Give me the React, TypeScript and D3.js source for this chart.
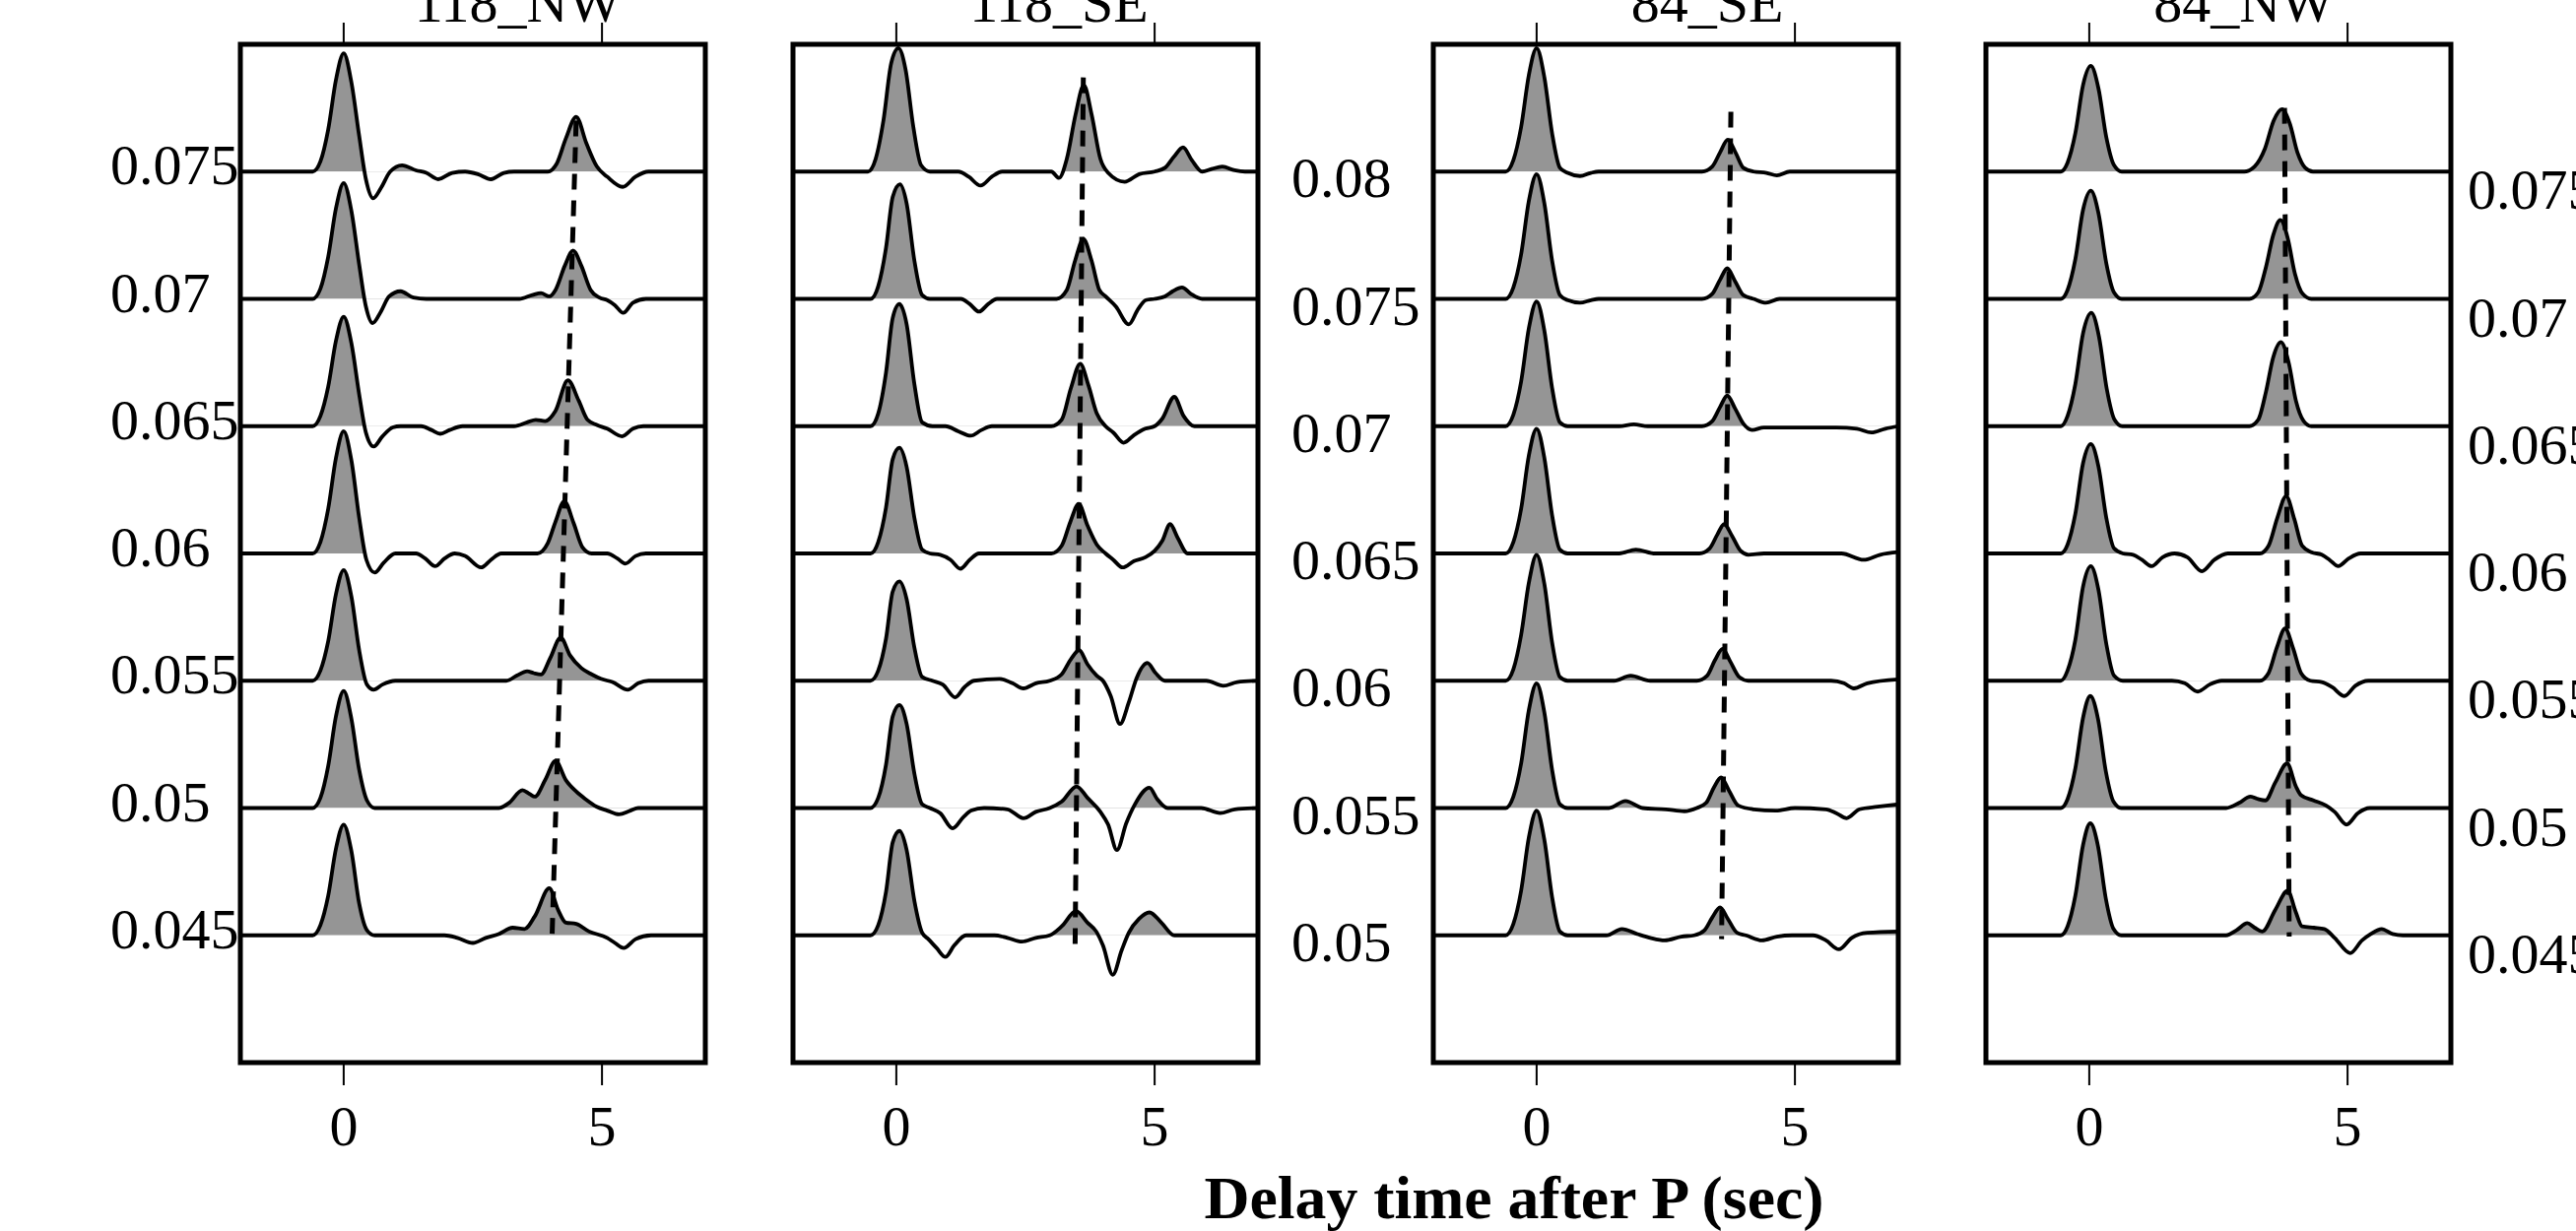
import React from 'react';
import * as d3 from 'd3';

type Pt = [number, number];
type Moveout = [number, number, number]; // [time, ray parameter, amplitude offset]

// ---------- shared axis values ----------
const TIME_DOMAIN: [number, number] = [-2, 7];
const TIME_TICKS = [0, 5];
const RAY_STEP = 0.005; // trace spacing in ray-parameter units; amplitudes are in these units
const AXIS_TITLE = 'Delay time after P (sec)';

// ---------- 118_NW ----------
const nw118Title = '118_NW';
const nw118RayP = [0.075, 0.07, 0.065, 0.06, 0.055, 0.05, 0.045];
const nw118Labels = ['0.075', '0.07', '0.065', '0.06', '0.055', '0.05', '0.045'];
const nw118Traces: Pt[][] = [
  [[-2,0],[-0.6,0],[-0.45,0.08],[-0.3,0.33],[-0.15,0.72],[0,0.93],[0.15,0.7],[0.3,0.28],[0.43,-0.06],[0.57,-0.21],[0.72,-0.13],[0.9,0],[1.13,0.05],[1.4,0.01],[1.6,-0.01],[1.83,-0.06],[2.1,-0.01],[2.35,0],[2.6,-0.02],[2.85,-0.06],[3.1,-0.01],[3.3,0],[3.95,0],[4.12,0.06],[4.3,0.26],[4.5,0.43],[4.7,0.22],[4.9,0.04],[5.1,-0.04],[5.4,-0.12],[5.65,-0.04],[5.9,0],[7,0]],
  [[-2,0],[-0.6,0],[-0.45,0.08],[-0.3,0.33],[-0.15,0.71],[0,0.91],[0.15,0.69],[0.3,0.27],[0.43,-0.06],[0.56,-0.19],[0.72,-0.1],[0.88,0.02],[1.1,0.06],[1.35,0.01],[1.6,0],[3.4,0],[3.65,0.03],[3.82,0.045],[3.98,0.02],[4.1,0.07],[4.28,0.26],[4.44,0.38],[4.6,0.26],[4.78,0.07],[4.95,0.01],[5.1,-0.01],[5.25,-0.05],[5.41,-0.11],[5.6,-0.03],[5.85,0],[7,0]],
  [[-2,0],[-0.6,0],[-0.45,0.08],[-0.3,0.31],[-0.15,0.67],[0,0.86],[0.15,0.65],[0.3,0.25],[0.43,-0.05],[0.58,-0.16],[0.75,-0.08],[0.95,-0.01],[1.1,0],[1.5,0],[1.7,-0.03],[1.87,-0.06],[2.05,-0.03],[2.3,0],[3.3,0],[3.55,0.03],[3.72,0.05],[3.9,0.04],[4.1,0.12],[4.34,0.36],[4.55,0.2],[4.72,0.05],[4.9,0.01],[5.1,-0.02],[5.39,-0.08],[5.6,-0.02],[5.8,0],[7,0]],
  [[-2,0],[-0.6,0],[-0.45,0.09],[-0.3,0.35],[-0.15,0.75],[0,0.96],[0.15,0.73],[0.3,0.28],[0.44,-0.05],[0.6,-0.15],[0.78,-0.07],[1.0,0],[1.4,0],[1.58,-0.04],[1.77,-0.1],[1.95,-0.04],[2.15,0],[2.35,-0.02],[2.66,-0.11],[2.85,-0.05],[3.05,0],[3.75,0],[3.95,0.08],[4.1,0.25],[4.27,0.41],[4.45,0.24],[4.62,0.05],[4.8,0],[5.1,0],[5.3,-0.04],[5.45,-0.08],[5.65,-0.02],[5.85,0],[7,0]],
  [[-2,0],[-0.6,0],[-0.45,0.08],[-0.3,0.31],[-0.15,0.68],[0,0.87],[0.15,0.66],[0.3,0.24],[0.45,-0.03],[0.58,-0.07],[0.75,-0.03],[1.0,0],[3.15,0],[3.35,0.04],[3.55,0.075],[3.68,0.06],[3.82,0.05],[4.0,0.18],[4.2,0.34],[4.38,0.2],[4.6,0.1],[4.8,0.05],[4.98,0.015],[5.2,-0.01],[5.5,-0.07],[5.7,-0.02],[5.9,0],[7,0]],
  [[-2,0],[-0.6,0],[-0.45,0.08],[-0.3,0.33],[-0.15,0.72],[0,0.92],[0.15,0.7],[0.3,0.3],[0.45,0.06],[0.6,0],[3.0,0],[3.2,0.04],[3.46,0.14],[3.6,0.11],[3.7,0.09],[3.9,0.22],[4.1,0.37],[4.3,0.22],[4.5,0.13],[4.68,0.07],[4.9,0.01],[5.1,-0.02],[5.33,-0.05],[5.55,-0.02],[5.7,0],[7,0]],
  [[-2,0],[-0.6,0],[-0.45,0.08],[-0.3,0.31],[-0.15,0.68],[0,0.87],[0.15,0.66],[0.3,0.25],[0.45,0.04],[0.6,0],[1.95,0],[2.2,-0.02],[2.5,-0.06],[2.75,-0.02],[3.0,0.01],[3.27,0.06],[3.5,0.05],[3.7,0.15],[3.98,0.37],[4.15,0.2],[4.3,0.1],[4.5,0.09],[4.75,0.03],[5.1,-0.02],[5.25,-0.06],[5.42,-0.1],[5.65,-0.03],[5.95,0],[7,0]],
];
const nw118Moveout: Moveout[] = [[4.5, 0.075, 0.4], [4.03, 0.045, -0.06]];

// ---------- 118_SE ----------
const se118Title = '118_SE';
const se118RayP = [0.08, 0.075, 0.07, 0.065, 0.06, 0.055, 0.05];
const se118Traces: Pt[][] = [
  [[-2,0],[-0.55,0],[-0.4,0.1],[-0.25,0.4],[-0.1,0.85],[0.04,0.97],[0.18,0.8],[0.33,0.35],[0.48,0.05],[0.65,0],[1.2,0],[1.4,-0.04],[1.63,-0.11],[1.85,-0.04],[2.05,0],[3.0,0],[3.15,-0.05],[3.3,0.1],[3.47,0.45],[3.63,0.68],[3.78,0.45],[3.95,0.1],[4.1,-0.01],[4.42,-0.08],[4.7,-0.02],[5.0,0],[5.2,0.03],[5.38,0.12],[5.55,0.19],[5.72,0.09],[5.92,0],[6.1,0.02],[6.31,0.04],[6.55,0.01],[6.75,0],[7,0]],
  [[-2,0],[-0.5,0],[-0.35,0.1],[-0.2,0.4],[-0.07,0.8],[0.07,0.9],[0.2,0.75],[0.35,0.3],[0.5,0.03],[0.65,0],[1.25,0],[1.42,-0.04],[1.6,-0.1],[1.78,-0.04],[1.95,0],[3.1,0],[3.3,0.07],[3.46,0.3],[3.62,0.47],[3.78,0.3],[3.93,0.07],[4.05,0.02],[4.25,-0.06],[4.5,-0.2],[4.68,-0.08],[4.83,-0.01],[5.0,0],[5.2,0.02],[5.35,0.06],[5.53,0.09],[5.7,0.04],[5.92,0],[7,0]],
  [[-2,0],[-0.5,0],[-0.35,0.1],[-0.2,0.42],[-0.07,0.85],[0.06,0.96],[0.2,0.8],[0.35,0.33],[0.5,0.03],[0.7,0],[0.95,0],[1.2,-0.04],[1.44,-0.075],[1.65,-0.03],[1.85,0],[3.0,0],[3.2,0.05],[3.38,0.3],[3.56,0.49],[3.72,0.32],[3.88,0.1],[4.05,0],[4.2,-0.05],[4.4,-0.13],[4.6,-0.07],[4.82,-0.02],[5.0,0],[5.15,0.06],[5.38,0.23],[5.56,0.08],[5.77,0],[7,0]],
  [[-2,0],[-0.5,0],[-0.35,0.09],[-0.2,0.36],[-0.07,0.74],[0.06,0.83],[0.2,0.68],[0.35,0.28],[0.5,0.03],[0.65,0],[0.85,-0.01],[1.05,-0.05],[1.24,-0.12],[1.42,-0.05],[1.6,0],[3.0,0],[3.2,0.06],[3.37,0.25],[3.53,0.39],[3.7,0.22],[3.88,0.07],[4.05,0],[4.2,-0.05],[4.38,-0.11],[4.6,-0.06],[4.82,-0.03],[5.0,0.02],[5.15,0.1],[5.3,0.23],[5.45,0.12],[5.64,0],[7,0]],
  [[-2,0],[-0.5,0],[-0.35,0.08],[-0.2,0.33],[-0.07,0.7],[0.06,0.78],[0.2,0.64],[0.35,0.26],[0.5,0.03],[0.7,0],[0.9,-0.03],[1.14,-0.13],[1.32,-0.05],[1.5,0],[2.0,0.015],[2.25,-0.02],[2.46,-0.06],[2.7,-0.02],[2.97,0],[3.2,0.05],[3.38,0.17],[3.54,0.24],[3.7,0.13],[3.88,0.04],[4.0,0],[4.15,-0.12],[4.33,-0.34],[4.5,-0.17],[4.65,0.02],[4.86,0.14],[5.02,0.06],[5.2,0],[6.0,0],[6.33,-0.04],[6.6,-0.01],[7,0]],
  [[-2,0],[-0.5,0],[-0.35,0.08],[-0.2,0.34],[-0.07,0.72],[0.06,0.81],[0.2,0.66],[0.35,0.27],[0.5,0.03],[0.65,0],[0.85,-0.04],[1.09,-0.16],[1.3,-0.07],[1.45,-0.02],[1.7,0],[2.15,-0.01],[2.46,-0.08],[2.7,-0.03],[2.97,0],[3.2,0.05],[3.49,0.17],[3.7,0.08],[3.95,-0.03],[4.1,-0.13],[4.27,-0.33],[4.45,-0.12],[4.62,0.03],[4.9,0.16],[5.05,0.07],[5.25,0],[5.9,0],[6.27,-0.04],[6.55,-0.01],[7,0]],
  [[-2,0],[-0.5,0],[-0.35,0.08],[-0.2,0.34],[-0.07,0.73],[0.06,0.82],[0.2,0.67],[0.35,0.27],[0.5,0.02],[0.62,-0.03],[0.78,-0.1],[0.95,-0.17],[1.12,-0.08],[1.35,0],[1.9,0],[2.15,-0.02],[2.43,-0.05],[2.7,-0.02],[2.97,0],[3.2,0.07],[3.48,0.19],[3.7,0.1],[3.87,0.03],[4.0,-0.08],[4.19,-0.31],[4.36,-0.12],[4.5,0.02],[4.7,0.13],[4.9,0.18],[5.13,0.1],[5.38,0],[7,0]],
];
const se118Moveout: Moveout[] = [[3.62, 0.08, 0.74], [3.46, 0.05, -0.11]];

// ---------- 84_SE ----------
const se84Title = '84_SE';
const se84RayP = [0.08, 0.075, 0.07, 0.065, 0.06, 0.055, 0.05];
const se84Labels = ['0.08', '0.075', '0.07', '0.065', '0.06', '0.055', '0.05'];
const se84Traces: Pt[][] = [
  [[-2,0],[-0.6,0],[-0.45,0.09],[-0.3,0.35],[-0.15,0.76],[0,0.97],[0.15,0.74],[0.3,0.3],[0.45,0.03],[0.6,-0.01],[0.84,-0.035],[1.05,-0.01],[1.2,0],[3.2,0],[3.4,0.04],[3.55,0.15],[3.7,0.25],[3.85,0.15],[4.0,0.03],[4.2,0],[4.45,-0.01],[4.65,-0.03],[4.9,0],[7,0]],
  [[-2,0],[-0.6,0],[-0.45,0.09],[-0.3,0.35],[-0.15,0.77],[0,0.98],[0.15,0.75],[0.3,0.3],[0.45,0.03],[0.6,-0.01],[0.84,-0.03],[1.05,-0.01],[1.2,0],[3.2,0],[3.4,0.04],[3.55,0.15],[3.69,0.24],[3.84,0.14],[4.0,0.03],[4.2,0],[4.44,-0.03],[4.7,0],[7,0]],
  [[-2,0],[-0.6,0],[-0.45,0.09],[-0.3,0.35],[-0.15,0.77],[0,0.98],[0.15,0.75],[0.3,0.3],[0.45,0.03],[0.6,0],[1.6,0],[1.88,0.015],[2.15,0],[3.2,0],[3.4,0.04],[3.55,0.15],[3.69,0.24],[3.84,0.14],[4.0,0.02],[4.17,-0.03],[4.4,-0.01],[5.8,-0.01],[6.2,-0.02],[6.48,-0.05],[6.75,-0.02],[7,0]],
  [[-2,0],[-0.6,0],[-0.45,0.09],[-0.3,0.35],[-0.15,0.77],[0,0.98],[0.15,0.75],[0.3,0.3],[0.45,0.03],[0.6,0],[1.6,0],[1.92,0.03],[2.3,0],[3.15,0],[3.35,0.04],[3.5,0.15],[3.63,0.23],[3.78,0.14],[3.95,0.02],[4.1,-0.01],[4.4,0],[5.9,0],[6.33,-0.05],[6.65,-0.01],[7,0.01]],
  [[-2,0],[-0.6,0],[-0.45,0.09],[-0.3,0.36],[-0.15,0.77],[0,0.99],[0.15,0.76],[0.3,0.3],[0.45,0.03],[0.6,0],[1.5,0],[1.82,0.04],[2.2,0],[3.1,0],[3.3,0.04],[3.45,0.16],[3.6,0.25],[3.75,0.15],[3.92,0.03],[4.1,0],[5.7,0],[5.95,-0.02],[6.14,-0.06],[6.4,-0.02],[7,0.01]],
  [[-2,0],[-0.6,0],[-0.45,0.09],[-0.3,0.35],[-0.15,0.77],[0,0.98],[0.15,0.75],[0.3,0.3],[0.45,0.03],[0.6,0],[1.4,0],[1.72,0.055],[2.05,0],[2.5,-0.01],[2.86,-0.025],[3.1,0],[3.28,0.04],[3.43,0.16],[3.57,0.24],[3.72,0.14],[3.9,0.02],[4.2,-0.01],[4.63,-0.02],[5.0,0],[5.6,-0.01],[5.8,-0.04],[6.0,-0.08],[6.25,-0.01],[6.6,0.01],[7,0.03]],
  [[-2,0],[-0.6,0],[-0.45,0.09],[-0.3,0.35],[-0.15,0.77],[0,0.98],[0.15,0.75],[0.3,0.3],[0.45,0.03],[0.6,0],[1.35,0],[1.65,0.05],[1.95,0.01],[2.2,-0.02],[2.48,-0.04],[2.8,-0.01],[3.05,0],[3.25,0.04],[3.4,0.14],[3.55,0.22],[3.7,0.13],[3.88,0.02],[4.05,0],[4.36,-0.04],[4.65,-0.01],[4.95,0],[5.35,0],[5.6,-0.04],[5.85,-0.11],[6.1,-0.02],[6.4,0.02],[7,0.03]],
];
const se84Moveout: Moveout[] = [[3.76, 0.08, 0.47], [3.58, 0.05, -0.03]];

// ---------- 84_NW ----------
const nw84Title = '84_NW';
const nw84RayP = [0.075, 0.07, 0.065, 0.06, 0.055, 0.05, 0.045];
const nw84Labels = ['0.075', '0.07', '0.065', '0.06', '0.055', '0.05', '0.045'];
const nw84Traces: Pt[][] = [
  [[-2,0],[-0.55,0],[-0.42,0.07],[-0.27,0.3],[-0.12,0.68],[0.03,0.83],[0.18,0.65],[0.33,0.27],[0.48,0.05],[0.63,0],[3.0,0],[3.2,0.04],[3.4,0.18],[3.57,0.4],[3.73,0.49],[3.88,0.38],[4.03,0.15],[4.18,0.03],[4.33,0],[7,0]],
  [[-2,0],[-0.55,0],[-0.42,0.07],[-0.27,0.31],[-0.12,0.7],[0.03,0.85],[0.18,0.67],[0.33,0.28],[0.48,0.05],[0.63,0],[3.1,0],[3.27,0.05],[3.42,0.25],[3.56,0.5],[3.7,0.62],[3.84,0.48],[3.98,0.2],[4.13,0.04],[4.3,0],[7,0]],
  [[-2,0],[-0.55,0],[-0.42,0.08],[-0.27,0.33],[-0.12,0.73],[0.04,0.89],[0.19,0.7],[0.34,0.29],[0.49,0.05],[0.64,0],[3.1,0],[3.27,0.05],[3.42,0.27],[3.56,0.54],[3.71,0.66],[3.86,0.5],[4.0,0.2],[4.15,0.04],[4.3,0],[7,0]],
  [[-2,0],[-0.55,0],[-0.42,0.07],[-0.27,0.31],[-0.12,0.71],[0.03,0.86],[0.18,0.68],[0.33,0.28],[0.48,0.04],[0.65,0],[0.85,-0.01],[1.02,-0.05],[1.21,-0.1],[1.42,-0.03],[1.65,0],[1.9,-0.03],[2.18,-0.14],[2.42,-0.05],[2.68,0],[3.3,0],[3.47,0.06],[3.64,0.28],[3.81,0.45],[3.97,0.27],[4.12,0.06],[4.3,0.01],[4.5,-0.01],[4.65,-0.05],[4.82,-0.1],[5.02,-0.04],[5.25,0],[7,0]],
  [[-2,0],[-0.55,0],[-0.42,0.08],[-0.27,0.32],[-0.12,0.74],[0.03,0.9],[0.18,0.71],[0.33,0.29],[0.48,0.04],[0.65,0],[1.6,0],[1.85,-0.02],[2.1,-0.085],[2.33,-0.03],[2.56,0],[3.3,0],[3.47,0.06],[3.63,0.26],[3.79,0.41],[3.95,0.25],[4.1,0.06],[4.28,0],[4.5,-0.01],[4.7,-0.05],[4.94,-0.12],[5.15,-0.04],[5.4,0],[7,0]],
  [[-2,0],[-0.55,0],[-0.42,0.07],[-0.27,0.31],[-0.12,0.71],[0.02,0.88],[0.17,0.7],[0.32,0.29],[0.47,0.05],[0.62,0],[2.65,0],[2.9,0.04],[3.12,0.09],[3.27,0.07],[3.41,0.06],[3.6,0.2],[3.83,0.35],[4.0,0.17],[4.1,0.1],[4.34,0.06],[4.58,0.02],[4.75,-0.03],[4.98,-0.13],[5.2,-0.04],[5.43,0],[7,0]],
  [[-2,0],[-0.55,0],[-0.42,0.07],[-0.27,0.31],[-0.12,0.71],[0.02,0.88],[0.17,0.7],[0.32,0.29],[0.47,0.05],[0.62,0],[2.65,0],[2.85,0.04],[3.06,0.095],[3.2,0.06],[3.35,0.03],[3.6,0.2],[3.84,0.35],[4.0,0.18],[4.12,0.07],[4.35,0.06],[4.55,0.05],[4.75,-0.02],[5.05,-0.14],[5.28,-0.04],[5.45,0.01],[5.66,0.05],[5.87,0.01],[6.07,0],[7,0]],
];
const nw84Moveout: Moveout[] = [[3.78, 0.075, 0.5], [3.87, 0.045, -0.01]];

// ---------- layout ----------
const W = 2615;
const H = 1250;
const PANEL_TOP = 45;
const PANEL_BOTTOM = 1079;
const PANEL_W = 472;
const FONT = "'Liberation Serif', 'Times New Roman', Times, serif";
const FS = 58;

interface PanelCfg {
  title: string;
  rayP: number[];
  traces: Pt[][];
  moveout: Moveout[];
  left: number;
  titleX: number;
  labels?: string[];
  labelX?: number;
  labelDy?: number;
}

const panels: PanelCfg[] = [
  { title: nw118Title, rayP: nw118RayP, traces: nw118Traces, moveout: nw118Moveout, left: 244, titleX: 526, labels: nw118Labels, labelX: 112, labelDy: 13 },
  { title: se118Title, rayP: se118RayP, traces: se118Traces, moveout: se118Moveout, left: 805, titleX: 1075 },
  { title: se84Title, rayP: se84RayP, traces: se84Traces, moveout: se84Moveout, left: 1455, titleX: 1733, labels: se84Labels, labelX: 1311, labelDy: 26 },
  { title: nw84Title, rayP: nw84RayP, traces: nw84Traces, moveout: nw84Moveout, left: 2016, titleX: 2278, labels: nw84Labels, labelX: 2505, labelDy: 38 },
];

function Panel({ cfg, idx }: { cfg: PanelCfg; idx: number }) {
  const x = d3.scaleLinear().domain(TIME_DOMAIN).range([cfg.left, cfg.left + PANEL_W]);
  const pMax = d3.max(cfg.rayP)! + RAY_STEP;
  const pMin = d3.min(cfg.rayP)! - RAY_STEP;
  const y = d3.scaleLinear().domain([pMin, pMax]).range([PANEL_BOTTOM, PANEL_TOP]);

  const moveLine = d3
    .line<Moveout>()
    .x((d) => x(d[0]))
    .y((d) => y(d[1] + d[2] * RAY_STEP));

  return (
    <g>
      {cfg.traces.map((pts, i) => {
        const p = cfg.rayP[i];
        const base = y(p);
        const line = d3
          .line<Pt>()
          .x((d) => x(d[0]))
          .y((d) => y(p + d[1] * RAY_STEP))
          .curve(d3.curveMonotoneX);
        const area = d3
          .area<Pt>()
          .x((d) => x(d[0]))
          .y0(base)
          .y1((d) => y(p + d[1] * RAY_STEP))
          .curve(d3.curveMonotoneX);
        const clipId = `clip-${idx}-${i}`;
        return (
          <g key={i}>
            <clipPath id={clipId}>
              <rect x={cfg.left} y={0} width={PANEL_W} height={base} />
            </clipPath>
            <path d={area(pts)!} fill="#959595" stroke="none" clipPath={`url(#${clipId})`} />
            <path d={line(pts)!} fill="none" stroke="#000" strokeWidth={3.8} strokeLinejoin="round" />
          </g>
        );
      })}
      <path d={moveLine(cfg.moveout)!} fill="none" stroke="#000" strokeWidth={5} strokeDasharray="16 11" />
      <rect x={cfg.left} y={PANEL_TOP} width={PANEL_W} height={PANEL_BOTTOM - PANEL_TOP} fill="none" stroke="#000" strokeWidth={5} />
      {TIME_TICKS.map((t) => (
        <g key={t}>
          <line x1={x(t)} x2={x(t)} y1={PANEL_TOP} y2={PANEL_TOP - 22} stroke="#000" strokeWidth={2} />
          <line x1={x(t)} x2={x(t)} y1={PANEL_BOTTOM} y2={PANEL_BOTTOM + 23} stroke="#000" strokeWidth={2} />
          <text x={x(t)} y={1163} textAnchor="middle" fontFamily={FONT} fontSize={FS}>{t}</text>
        </g>
      ))}
      <text x={cfg.titleX} y={22} textAnchor="middle" fontFamily={FONT} fontSize={FS}>{cfg.title}</text>
      {cfg.labels &&
        cfg.labels.map((lab, i) => (
          <text key={lab} x={cfg.labelX} y={y(cfg.rayP[i]) + (cfg.labelDy ?? 0)} fontFamily={FONT} fontSize={FS}>
            {lab}
          </text>
        ))}
    </g>
  );
}

export default function App() {
  return (
    <svg
      width={W}
      height={H}
      viewBox={`0 0 ${W} ${H}`}
      style={{ position: 'absolute', left: 0, top: 0, display: 'block', background: '#fff' }}
    >
      <rect x={0} y={0} width={W} height={H} fill="#fff" />
      {panels.map((cfg, i) => (
        <Panel key={cfg.title} cfg={cfg} idx={i} />
      ))}
      <text
        x={1537}
        y={1237}
        textAnchor="middle"
        fontFamily={FONT}
        fontSize={62}
        fontWeight="bold"
        textLength={629}
        lengthAdjust="spacingAndGlyphs"
      >
        {AXIS_TITLE}
      </text>
    </svg>
  );
}
